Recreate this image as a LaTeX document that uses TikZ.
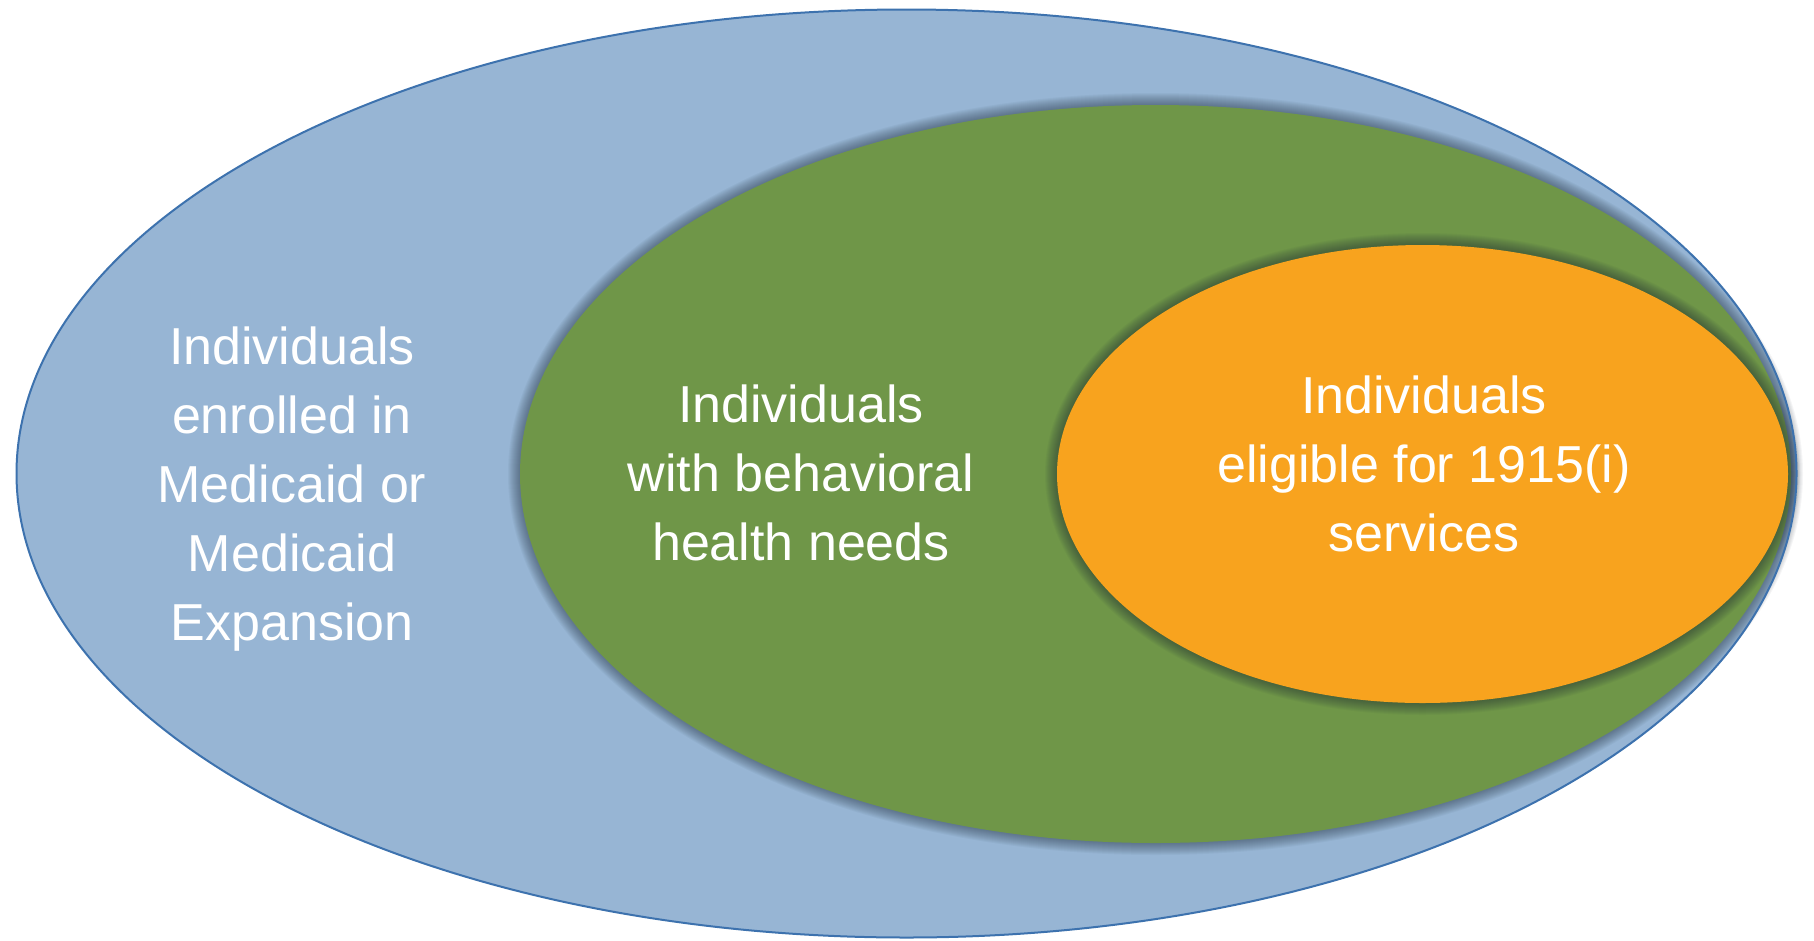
\documentclass[tikz,border=0pt]{standalone}
\usepackage{fontspec}
\setmainfont{Liberation Sans}
\definecolor{outerblue}{HTML}{97B5D4}
\definecolor{outerline}{HTML}{3D72AE}
\definecolor{midgreen}{HTML}{6F9648}
\definecolor{innerorange}{HTML}{F8A31E}
\definecolor{glowcol}{HTML}{1E2A3A}
\tikzset{
  lbl/.style={text=white, align=center, font=\fontsize{52}{69}\selectfont, inner sep=0pt},
}
\newcommand{\glowellipse}[4]{%
  \foreach \k in {12,11,...,1}{
    \fill[glowcol, opacity=0.045] (#1,#2) ellipse [x radius=#3pt+\k pt, y radius=#4pt+\k pt];
  }%
}
\begin{document}
\begin{tikzpicture}[x=1pt,y=-1pt]
\useasboundingbox (0,0) rectangle (1814,940);
\fill[white] (0,0) rectangle (1814,940);
% outer ellipse
\fill[outerblue] (906.5,473.5) ellipse [x radius=890pt, y radius=464pt];
% green ellipse with glow
\glowellipse{1155.5}{474}{635.5}{369}
\fill[midgreen] (1155.5,474) ellipse [x radius=635.5pt, y radius=369pt];
% orange ellipse with glow
\glowellipse{1422.5}{474}{365.5}{229}
\fill[innerorange] (1422.5,474) ellipse [x radius=365.5pt, y radius=229pt];
% outer outline
\draw[outerline, line width=2pt] (906.5,473.5) ellipse [x radius=890pt, y radius=464pt];
% labels
\node[lbl] (outer) at (292,489.5) {Individuals\\enrolled in\\Medicaid or\\Medicaid\\Expansion};
\node[lbl] (mid) at (801,473) {Individuals\\with behavioral\\health needs};
\node[lbl] (inner) at (1424,463.5) {Individuals\\eligible for 1915(i)\\services};
\end{tikzpicture}
\end{document}
